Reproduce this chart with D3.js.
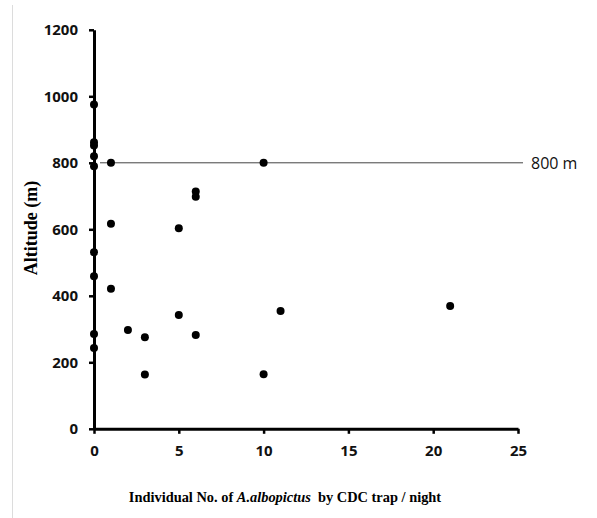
<!DOCTYPE html>
<html lang="en">
<head>
<meta charset="utf-8">
<title>Altitude vs A. albopictus</title>
<script src="https://d3js.org/d3.v7.min.js"></script>
<style>
  body { margin: 0; background: #fff; }
</style>
</head>
<body>
<script>
// trap counts (x) and altitude in m (y)
var counts    = [0, 0, 0, 0, 0, 1, 10, 6, 6, 1, 5, 0, 0, 1, 5, 11, 2, 3, 6, 0, 0, 3, 10, 21];
var altitudes = [975, 862, 852, 820, 790, 800, 800, 714, 698, 617, 603, 531, 459, 421, 342, 354, 297, 275, 282, 285, 243, 163, 164, 369];
var xTicks = [0, 5, 10, 15, 20, 25];
var yTicks = [0, 200, 400, 600, 800, 1000, 1200];
var refAltitude = 800;

var width = 597, height = 518;
var svg = d3.select("body").append("svg")
    .attr("width", width)
    .attr("height", height);

// faint page border on the left
svg.append("line")
    .attr("x1", 12.5).attr("x2", 12.5)
    .attr("y1", 5).attr("y2", height)
    .attr("stroke", "#dcdcdc").attr("stroke-width", 1);

var x = d3.scaleLinear().domain([0, 25]).range([94, 518]);
var y = d3.scaleLinear().domain([0, 1200]).range([428.8, 29.8]);

// reference line at 800 m
svg.append("line")
    .attr("x1", 100).attr("x2", 523)
    .attr("y1", y(refAltitude)).attr("y2", y(refAltitude))
    .attr("stroke", "#444").attr("stroke-width", 1);

svg.append("text")
    .attr("x", 531)
    .attr("y", y(refAltitude) + 6)
    .attr("font-family", "Open Sans, sans-serif")
    .attr("font-size", 16)
    .attr("fill", "#111")
    .text(refAltitude + " m");

var xAxis = svg.append("g")
    .attr("transform", "translate(0," + y(0) + ")")
    .call(d3.axisBottom(x).tickValues(xTicks).tickFormat(d3.format("d"))
      .tickSize(5).tickSizeOuter(0).tickPadding(12));

var yAxis = svg.append("g")
    .attr("transform", "translate(" + x(0) + ",0)")
    .call(d3.axisLeft(y).tickValues(yTicks).tickFormat(d3.format("d"))
      .tickSize(5).tickSizeOuter(0).tickPadding(11));

[xAxis, yAxis].forEach(function(g) {
  g.select(".domain").attr("stroke", "#000").attr("stroke-width", 3);
  g.selectAll(".tick line").attr("stroke", "#000").attr("stroke-width", 2.5);
  g.selectAll(".tick text")
    .attr("font-family", "Open Sans, sans-serif")
    .attr("font-weight", "bold")
    .attr("font-size", 15)
    .attr("fill", "#111");
});

svg.append("g")
  .selectAll("circle")
  .data(counts.map(function(c, i) { return [c, altitudes[i]]; }))
  .enter().append("circle")
    .attr("cx", function(d) { return x(d[0]); })
    .attr("cy", function(d) { return y(d[1]); })
    .attr("r", 4)
    .attr("fill", "#000");

// axis titles
svg.append("text")
    .attr("transform", "translate(37,228) rotate(-90)")
    .attr("text-anchor", "middle")
    .attr("font-family", "Liberation Serif, Times New Roman, serif")
    .attr("font-weight", "bold")
    .attr("font-size", 18)
    .text("Altitude (m)");

var xt = svg.append("text")
    .attr("x", 285)
    .attr("y", 502)
    .attr("text-anchor", "middle")
    .attr("font-family", "Liberation Serif, Times New Roman, serif")
    .attr("font-weight", "bold")
    .attr("font-size", 14.4)
    .attr("xml:space", "preserve");
xt.append("tspan").text("Individual No. of ");
xt.append("tspan").attr("font-style", "italic").text("A.albopictus");
xt.append("tspan").text("  by CDC trap / night");
</script>
</body>
</html>
